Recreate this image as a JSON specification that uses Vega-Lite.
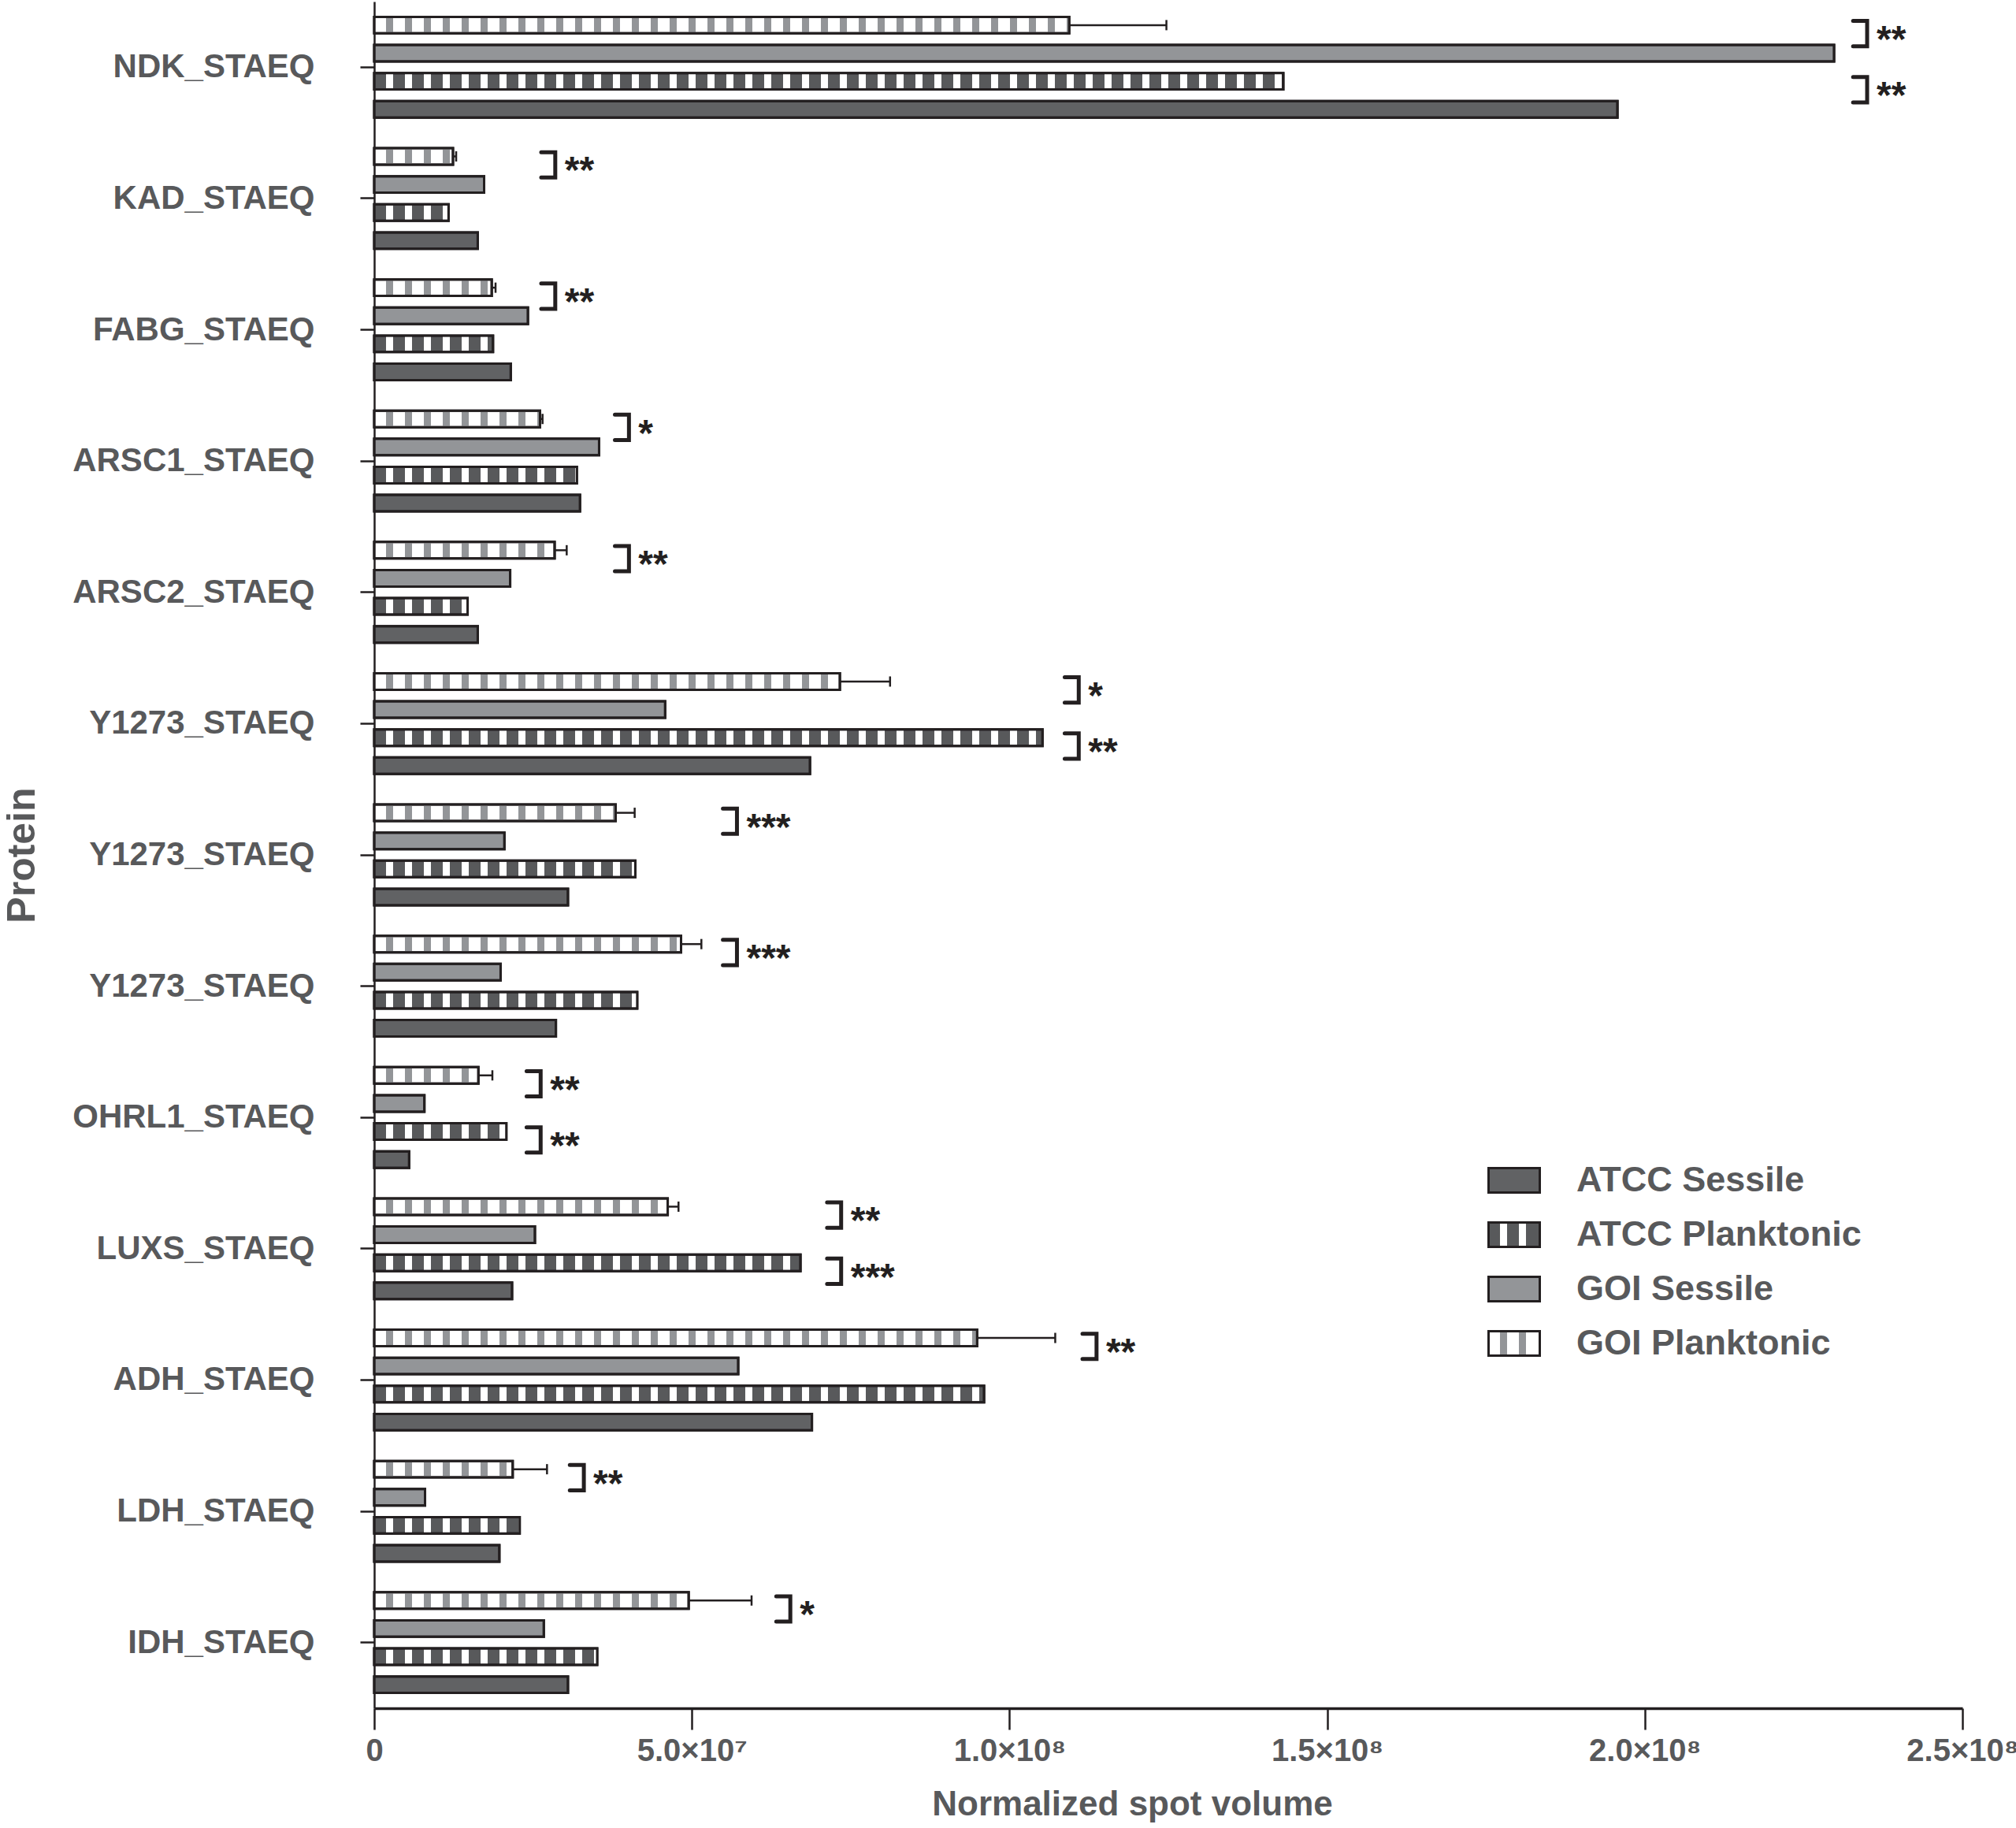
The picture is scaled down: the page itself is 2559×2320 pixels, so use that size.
{
  "$schema": "https://vega.github.io/schema/vega-lite/v6.json",
  "width": 2016,
  "height": 2166,
  "padding": {"left": 3, "top": 2, "right": 60, "bottom": 5},
  "config": {
    "font": "Liberation Sans",
    "view": {"stroke": null},
    "axis": {"grid": false}
  },
  "datasets": {
    "bars": [
      {"protein": "NDK_STAEQ", "group": "GOI Planktonic", "value": 109400000, "hi": 124700000},
      {"protein": "NDK_STAEQ", "group": "GOI Sessile", "value": 229800000},
      {"protein": "NDK_STAEQ", "group": "ATCC Planktonic", "value": 143100000},
      {"protein": "NDK_STAEQ", "group": "ATCC Sessile", "value": 195700000},
      {"protein": "KAD_STAEQ", "group": "GOI Planktonic", "value": 12400000, "hi": 12900000},
      {"protein": "KAD_STAEQ", "group": "GOI Sessile", "value": 17300000},
      {"protein": "KAD_STAEQ", "group": "ATCC Planktonic", "value": 11700000},
      {"protein": "KAD_STAEQ", "group": "ATCC Sessile", "value": 16300000},
      {"protein": "FABG_STAEQ", "group": "GOI Planktonic", "value": 18500000, "hi": 19100000},
      {"protein": "FABG_STAEQ", "group": "GOI Sessile", "value": 24200000},
      {"protein": "FABG_STAEQ", "group": "ATCC Planktonic", "value": 18700000},
      {"protein": "FABG_STAEQ", "group": "ATCC Sessile", "value": 21500000},
      {"protein": "ARSC1_STAEQ", "group": "GOI Planktonic", "value": 26100000, "hi": 26500000},
      {"protein": "ARSC1_STAEQ", "group": "GOI Sessile", "value": 35400000},
      {"protein": "ARSC1_STAEQ", "group": "ATCC Planktonic", "value": 31900000},
      {"protein": "ARSC1_STAEQ", "group": "ATCC Sessile", "value": 32400000},
      {"protein": "ARSC2_STAEQ", "group": "GOI Planktonic", "value": 28400000, "hi": 30300000},
      {"protein": "ARSC2_STAEQ", "group": "GOI Sessile", "value": 21400000},
      {"protein": "ARSC2_STAEQ", "group": "ATCC Planktonic", "value": 14700000},
      {"protein": "ARSC2_STAEQ", "group": "ATCC Sessile", "value": 16300000},
      {"protein": "Y1273_STAEQ#1", "group": "GOI Planktonic", "value": 73300000, "hi": 81200000},
      {"protein": "Y1273_STAEQ#1", "group": "GOI Sessile", "value": 45800000},
      {"protein": "Y1273_STAEQ#1", "group": "ATCC Planktonic", "value": 105200000},
      {"protein": "Y1273_STAEQ#1", "group": "ATCC Sessile", "value": 68600000},
      {"protein": "Y1273_STAEQ#2", "group": "GOI Planktonic", "value": 38000000, "hi": 41000000},
      {"protein": "Y1273_STAEQ#2", "group": "GOI Sessile", "value": 20500000},
      {"protein": "Y1273_STAEQ#2", "group": "ATCC Planktonic", "value": 41100000},
      {"protein": "Y1273_STAEQ#2", "group": "ATCC Sessile", "value": 30500000},
      {"protein": "Y1273_STAEQ#3", "group": "GOI Planktonic", "value": 48300000, "hi": 51500000},
      {"protein": "Y1273_STAEQ#3", "group": "GOI Sessile", "value": 19900000},
      {"protein": "Y1273_STAEQ#3", "group": "ATCC Planktonic", "value": 41400000},
      {"protein": "Y1273_STAEQ#3", "group": "ATCC Sessile", "value": 28600000},
      {"protein": "OHRL1_STAEQ", "group": "GOI Planktonic", "value": 16400000, "hi": 18600000},
      {"protein": "OHRL1_STAEQ", "group": "GOI Sessile", "value": 7900000},
      {"protein": "OHRL1_STAEQ", "group": "ATCC Planktonic", "value": 20800000},
      {"protein": "OHRL1_STAEQ", "group": "ATCC Sessile", "value": 5500000},
      {"protein": "LUXS_STAEQ", "group": "GOI Planktonic", "value": 46200000, "hi": 47900000},
      {"protein": "LUXS_STAEQ", "group": "GOI Sessile", "value": 25300000},
      {"protein": "LUXS_STAEQ", "group": "ATCC Planktonic", "value": 67100000},
      {"protein": "LUXS_STAEQ", "group": "ATCC Sessile", "value": 21700000},
      {"protein": "ADH_STAEQ", "group": "GOI Planktonic", "value": 94900000, "hi": 107200000},
      {"protein": "ADH_STAEQ", "group": "GOI Sessile", "value": 57300000},
      {"protein": "ADH_STAEQ", "group": "ATCC Planktonic", "value": 96000000},
      {"protein": "ADH_STAEQ", "group": "ATCC Sessile", "value": 68900000},
      {"protein": "LDH_STAEQ", "group": "GOI Planktonic", "value": 21800000, "hi": 27200000},
      {"protein": "LDH_STAEQ", "group": "GOI Sessile", "value": 8000000},
      {"protein": "LDH_STAEQ", "group": "ATCC Planktonic", "value": 22900000},
      {"protein": "LDH_STAEQ", "group": "ATCC Sessile", "value": 19700000},
      {"protein": "IDH_STAEQ", "group": "GOI Planktonic", "value": 49500000, "hi": 59400000},
      {"protein": "IDH_STAEQ", "group": "GOI Sessile", "value": 26700000},
      {"protein": "IDH_STAEQ", "group": "ATCC Planktonic", "value": 35100000},
      {"protein": "IDH_STAEQ", "group": "ATCC Sessile", "value": 30500000}
    ],
    "sig": [
      {"protein": "NDK_STAEQ", "group": "GOI Planktonic", "bx": 235000000, "stars": "**"},
      {"protein": "NDK_STAEQ", "group": "ATCC Planktonic", "bx": 235000000, "stars": "**"},
      {"protein": "KAD_STAEQ", "group": "GOI Planktonic", "bx": 28500000, "stars": "**"},
      {"protein": "FABG_STAEQ", "group": "GOI Planktonic", "bx": 28500000, "stars": "**"},
      {"protein": "ARSC1_STAEQ", "group": "GOI Planktonic", "bx": 40100000, "stars": "*"},
      {"protein": "ARSC2_STAEQ", "group": "GOI Planktonic", "bx": 40100000, "stars": "**"},
      {"protein": "Y1273_STAEQ#1", "group": "GOI Planktonic", "bx": 110900000, "stars": "*"},
      {"protein": "Y1273_STAEQ#1", "group": "ATCC Planktonic", "bx": 110900000, "stars": "**"},
      {"protein": "Y1273_STAEQ#2", "group": "GOI Planktonic", "bx": 57100000, "stars": "***"},
      {"protein": "Y1273_STAEQ#3", "group": "GOI Planktonic", "bx": 57100000, "stars": "***"},
      {"protein": "OHRL1_STAEQ", "group": "GOI Planktonic", "bx": 26200000, "stars": "**"},
      {"protein": "OHRL1_STAEQ", "group": "ATCC Planktonic", "bx": 26200000, "stars": "**"},
      {"protein": "LUXS_STAEQ", "group": "GOI Planktonic", "bx": 73500000, "stars": "**"},
      {"protein": "LUXS_STAEQ", "group": "ATCC Planktonic", "bx": 73500000, "stars": "***"},
      {"protein": "ADH_STAEQ", "group": "GOI Planktonic", "bx": 113700000, "stars": "**"},
      {"protein": "LDH_STAEQ", "group": "GOI Planktonic", "bx": 33000000, "stars": "**"},
      {"protein": "IDH_STAEQ", "group": "GOI Planktonic", "bx": 65500000, "stars": "*"}
    ]
  },
  "data": {"name": "bars"},
  "encoding": {
    "y": {
      "field": "protein",
      "type": "nominal",
      "scale": {
        "domain": ["NDK_STAEQ", "KAD_STAEQ", "FABG_STAEQ", "ARSC1_STAEQ", "ARSC2_STAEQ", "Y1273_STAEQ#1", "Y1273_STAEQ#2", "Y1273_STAEQ#3", "OHRL1_STAEQ", "LUXS_STAEQ", "ADH_STAEQ", "LDH_STAEQ", "IDH_STAEQ"],
        "paddingInner": 0,
        "paddingOuter": 0
      },
      "axis": {
        "title": "Protein",
        "titleFontSize": 50,
        "titleFontWeight": "bold",
        "titleColor": "#58595b",
        "titleAngle": 270,
        "titleX": -432,
        "titleY": 1083,
        "titleAlign": "center",
        "titleBaseline": "alphabetic",
        "labelExpr": "split(datum.label, '#')[0]",
        "labelFontSize": 42,
        "labelFontWeight": "bold",
        "labelColor": "#58595b",
        "labelPadding": 58,
        "labelLimit": 600,
        "tickSize": 18,
        "tickWidth": 2.5,
        "tickColor": "#231f20",
        "domainColor": "#231f20",
        "domainWidth": 2.5
      }
    },
    "yOffset": {
      "field": "group",
      "type": "nominal",
      "scale": {
        "domain": ["GOI Planktonic", "GOI Sessile", "ATCC Planktonic", "ATCC Sessile"],
        "paddingInner": 0.412,
        "paddingOuter": 0.545
      }
    }
  },
  "layer": [
    {
      "mark": {"type": "bar", "opacity": 0},
      "encoding": {
        "x": {
          "field": "value",
          "type": "quantitative",
          "scale": {"domain": [0, 250000000], "nice": false},
          "axis": {
            "title": "Normalized spot volume",
            "values": [0, 50000000, 100000000, 150000000, 200000000, 250000000],
            "labelExpr": "datum.value == 0 ? '0' : datum.value < 100000000 ? format(datum.value / 10000000, '.1f') + '×10⁷' : format(datum.value / 100000000, '.1f') + '×10⁸'",
            "labelFontSize": 40,
            "labelFontWeight": "bold",
            "labelColor": "#58595b",
            "labelPadding": 7,
            "labelFlush": false,
            "labelOverlap": false,
            "tickSize": 27,
            "tickWidth": 2.5,
            "tickColor": "#231f20",
            "domainColor": "#231f20",
            "domainWidth": 3.5,
            "titleFontSize": 44,
            "titleFontWeight": "bold",
            "titleColor": "#58595b",
            "titleX": 962,
            "titleY": 135,
            "titleAlign": "center",
            "titleBaseline": "alphabetic"
          }
        },
        "color": {
          "field": "group",
          "type": "nominal",
          "scale": {
            "domain": ["ATCC Sessile", "ATCC Planktonic", "GOI Sessile", "GOI Planktonic"],
            "range": [
              "#616264",
              {"expr": "{gradient: 'linear', x1: 0, y1: 0, x2: 1, y2: 0, stops: [{offset: 0, color: '#58595b'}, {offset: 0.228, color: '#58595b'}, {offset: 0.228, color: '#ffffff'}, {offset: 0.364, color: '#ffffff'}, {offset: 0.364, color: '#58595b'}, {offset: 0.592, color: '#58595b'}, {offset: 0.592, color: '#ffffff'}, {offset: 0.734, color: '#ffffff'}, {offset: 0.734, color: '#58595b'}, {offset: 1, color: '#58595b'}]}"},
              "#939598",
              {"expr": "{gradient: 'linear', x1: 0, y1: 0, x2: 1, y2: 0, stops: [{offset: 0, color: '#ffffff'}, {offset: 0.228, color: '#ffffff'}, {offset: 0.228, color: '#939598'}, {offset: 0.364, color: '#939598'}, {offset: 0.364, color: '#ffffff'}, {offset: 0.592, color: '#ffffff'}, {offset: 0.592, color: '#939598'}, {offset: 0.734, color: '#939598'}, {offset: 0.734, color: '#ffffff'}, {offset: 1, color: '#ffffff'}]}"}
            ]
          },
          "legend": {
            "title": null,
            "orient": "none",
            "legendX": 1413,
            "legendY": 1462,
            "padding": 0,
            "symbolType": "M-1,-0.477H1V0.477H-1Z",
            "symbolSize": 4225,
            "symbolOpacity": 1,
            "symbolStrokeColor": "#231f20",
            "symbolStrokeWidth": 3,
            "rowPadding": 12,
            "labelOffset": 45,
            "labelFontSize": 45,
            "labelFontWeight": "bold",
            "labelColor": "#58595b",
            "labelLimit": 600
          }
        }
      }
    },
    {
      "mark": {"type": "bar", "stroke": "#231f20", "strokeWidth": 3},
      "encoding": {
        "x": {"field": "value", "type": "quantitative", "title": "Normalized spot volume"},
        "fill": {
          "condition": [
            {"test": "datum.group === 'ATCC Sessile'", "value": "#616264"},
            {"test": "datum.group === 'ATCC Planktonic'", "value": "#58595b"},
            {"test": "datum.group === 'GOI Sessile'", "value": "#939598"}
          ],
          "value": "#ffffff"
        }
      }
    },
    {
      "transform": [{"filter": {"field": "group", "oneOf": ["GOI Planktonic", "ATCC Planktonic"]}}],
      "mark": {"type": "rule", "strokeWidth": 18, "strokeDash": [9, 15], "strokeDashOffset": {"expr": "-scale('x', datum.value)"}, "strokeCap": "butt"},
      "encoding": {
        "x": {"field": "value", "type": "quantitative", "title": "Normalized spot volume"},
        "x2": {"datum": 0},
        "stroke": {
          "condition": {"test": "datum.group === 'ATCC Planktonic'", "value": "#ffffff"},
          "value": "#939598"
        }
      }
    },
    {
      "mark": {"type": "bar", "fillOpacity": 0, "stroke": "#231f20", "strokeWidth": 3},
      "encoding": {
        "x": {"field": "value", "type": "quantitative", "title": "Normalized spot volume"}
      }
    },
    {
      "transform": [{"filter": "isValid(datum.hi)"}],
      "mark": {"type": "rule", "stroke": "#231f20", "strokeWidth": 2.5},
      "encoding": {
        "x": {"field": "value", "type": "quantitative", "title": "Normalized spot volume"},
        "x2": {"field": "hi"}
      }
    },
    {
      "transform": [{"filter": "isValid(datum.hi)"}],
      "mark": {"type": "point", "shape": "M0,-1V1", "size": 169, "filled": false, "opacity": 1, "stroke": "#231f20", "strokeWidth": 2.5},
      "encoding": {
        "x": {"field": "hi", "type": "quantitative", "title": "Normalized spot volume"}
      }
    },
    {
      "data": {"name": "sig"},
      "mark": {"type": "point", "shape": "M-1,-0.3H0V1.5H-1", "size": 1274, "filled": false, "opacity": 1, "stroke": "#231f20", "strokeWidth": 5, "strokeCap": "round", "strokeJoin": "miter"},
      "encoding": {
        "x": {"field": "bx", "type": "quantitative", "title": "Normalized spot volume"}
      }
    },
    {
      "data": {"name": "sig"},
      "mark": {"type": "text", "align": "left", "baseline": "alphabetic", "dx": 12, "dy": 34, "fontSize": 48, "fontWeight": "bold", "color": "#231f20"},
      "encoding": {
        "x": {"field": "bx", "type": "quantitative", "title": "Normalized spot volume"},
        "text": {"field": "stars"}
      }
    }
  ]
}
